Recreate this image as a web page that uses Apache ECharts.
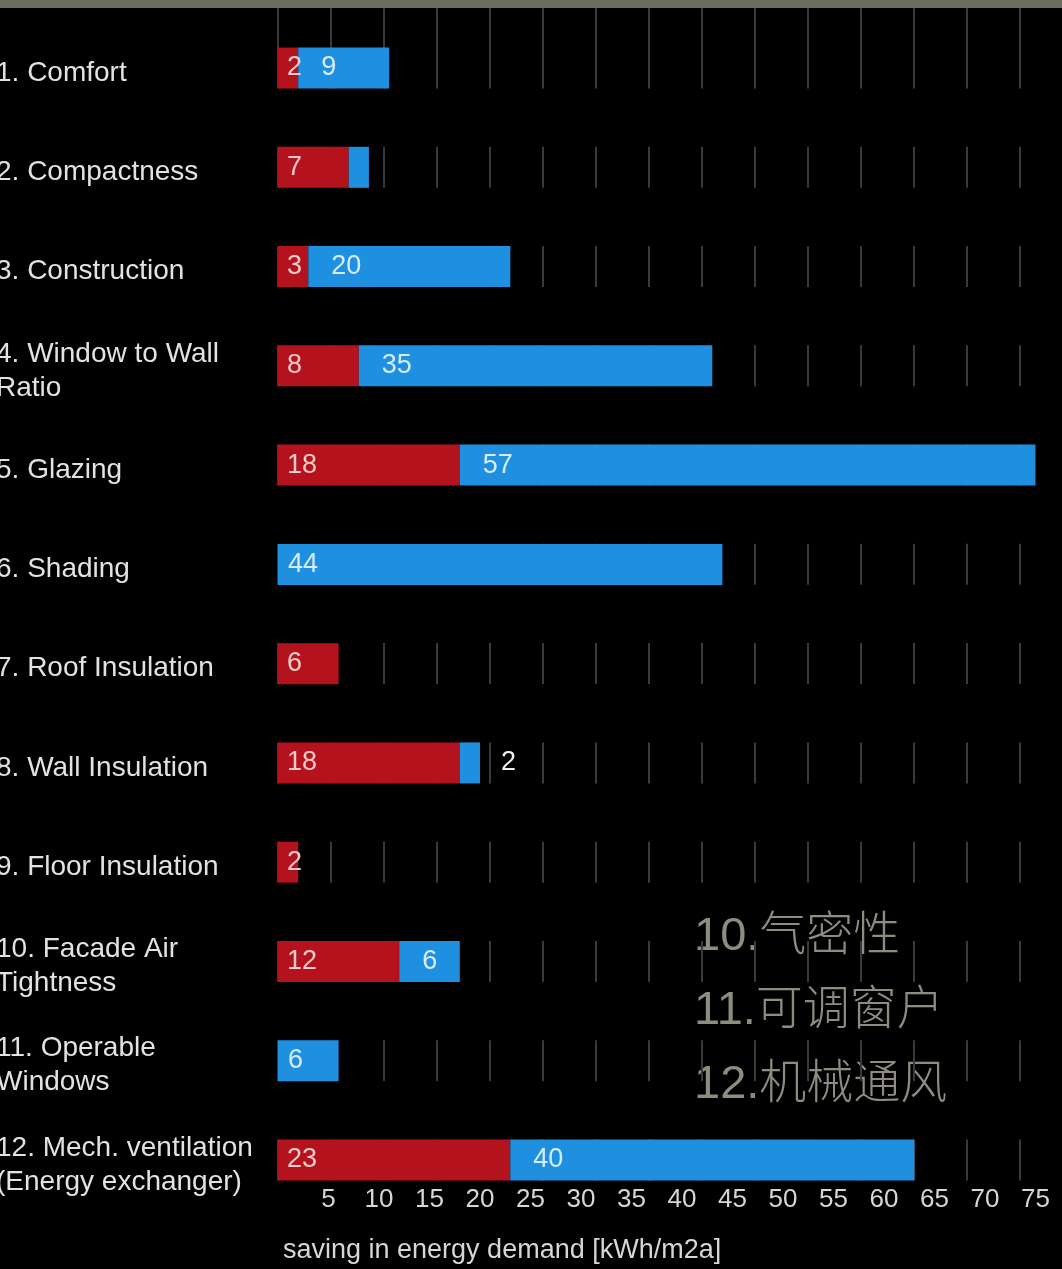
<!DOCTYPE html>
<html>
<head>
<meta charset="utf-8">
<script src="https://cdn.jsdelivr.net/npm/echarts@6/dist/echarts.min.js"></script>
<style>
  html, body { margin: 0; padding: 0; background: #000; }
  #chart { width: 1062px; height: 1269px; }
</style>
</head>
<body>
<div id="chart"></div>
<script>
// Energy-saving measures: heating share (red) and cooling share (blue), kWh/m2a
const categories = [
  '1. Comfort',
  '2. Compactness',
  '3. Construction',
  '4. Window to Wall\nRatio',
  '5. Glazing',
  '6. Shading',
  '7. Roof Insulation',
  '8. Wall Insulation',
  '9. Floor Insulation',
  '10. Facade Air\nTightness',
  '11. Operable\nWindows',
  '12. Mech. ventilation\n(Energy exchanger)'
];
const redValues  = [2, 7, 3, 8, 18, 0, 6, 18, 2, 12, 0, 23];
const blueValues = [9, 2, 20, 35, 57, 44, 0, 2, 0, 6, 6, 40];
const tickLabels = ['5', '10', '15', '20', '25', '30', '35', '40', '45', '50', '55', '60', '65', '70', '75'];
const axisTitle = 'saving in energy demand [kWh/m2a]';
const notes = ['10.气密性', '11.可调窗户', '12.机械通风'];
// blue segments whose value is not printed / printed beside the bar
const blueUnlabelled = [1];
const blueLabelOutside = [7];

const FONT = '"Liberation Sans", Arial, sans-serif';
const RED = '#b4121c';
const BLUE = '#1f8fe0';

const gridLeft = 278, gridTop = 18.4, rowH = 99.27;
const gridW = 757.5;                   // 75 units on the value axis
const gridH = rowH * categories.length;
const gridLineCount = 757.5 / 53;      // backdrop guide spacing

const redData = redValues.map(v => ({
  value: v,
  label: { show: v > 0 }
}));
const blueData = blueValues.map((v, i) => {
  if (v === 0 || blueUnlabelled.includes(i)) return { value: v, label: { show: false } };
  if (blueLabelOutside.includes(i)) {
    return { value: v, label: { show: true, position: 'right', distance: 21, color: '#eeeeee' } };
  }
  return { value: v, label: { show: true, position: 'insideLeft', distance: redValues[i] > 0 ? 23 : 10 } };
});

const guideLine = {
  show: true,
  showMaxLine: false,
  lineStyle: { color: '#3a3a3a', width: 2 }
};

const chart = echarts.init(document.getElementById('chart'), null, { renderer: 'canvas' });
chart.setOption({
  backgroundColor: '#000',
  animation: false,
  title: {
    text: axisTitle,
    left: 283, top: 1237, padding: 0,
    textStyle: { color: '#d6d6d6', fontSize: 27, fontWeight: 'normal', fontFamily: FONT }
  },
  grid: [
    { left: gridLeft, top: gridTop, width: gridW, height: gridH, outerBoundsMode: 'none', containLabel: false },
    { left: gridLeft, top: 8, width: gridW, height: 40, outerBoundsMode: 'none', containLabel: false }
  ],
  xAxis: [
    {
      type: 'value', gridIndex: 0, min: 0, max: 75, interval: 5,
      axisLine: { show: false }, axisTick: { show: false }, splitLine: { show: false },
      axisLabel: {
        margin: -23,
        color: '#d6d6d6', fontSize: 26, fontFamily: FONT,
        formatter: v => (v === 0 ? '' : tickLabels[v / 5 - 1])
      }
    },
    {
      type: 'value', gridIndex: 0, min: 0, max: gridLineCount, interval: 1,
      axisLine: { show: false }, axisTick: { show: false }, axisLabel: { show: false },
      splitLine: Object.assign({}, guideLine, {
        lineStyle: { color: '#3a3a3a', width: 2, type: [41, rowH - 41], dashOffset: rowH - 29.1 }
      })
    },
    {
      type: 'value', gridIndex: 1, min: 0, max: gridLineCount, interval: 1,
      axisLine: { show: false }, axisTick: { show: false }, axisLabel: { show: false },
      splitLine: guideLine
    }
  ],
  yAxis: [
    {
      type: 'category', gridIndex: 0, data: categories, inverse: true,
      axisLine: { show: false }, axisTick: { show: false },
      axisLabel: {
        align: 'left', margin: 282,
        color: '#e2e2e2', fontSize: 28, lineHeight: 34, fontFamily: FONT,
        // a thin spacer line above each name nudges the text block down a little
        formatter: v => '{gap| }\n' + v,
        rich: { gap: { fontSize: 1, lineHeight: 10 } }
      }
    },
    { type: 'value', gridIndex: 1, show: false }
  ],
  series: [
    {
      name: 'heating', type: 'bar', stack: 'saving', xAxisIndex: 0, yAxisIndex: 0,
      barWidth: 41, data: redData,
      itemStyle: { color: RED },
      label: { position: 'insideLeft', distance: 9, color: '#f6caca', fontSize: 27, fontFamily: FONT },
      silent: true
    },
    {
      name: 'cooling', type: 'bar', stack: 'saving', xAxisIndex: 0, yAxisIndex: 0,
      barWidth: 41, data: blueData,
      itemStyle: { color: BLUE },
      label: { color: '#d6ecff', fontSize: 27, fontFamily: FONT },
      silent: true
    }
  ],
  graphic: [
    { type: 'rect', left: 0, top: 0, shape: { width: 1062, height: 8 }, style: { fill: '#6b6d5f' }, silent: true },
    ...notes.map((t, i) => ({
      type: 'text', left: 694, top: 914 + i * 74,
      style: {
        text: t, fill: '#8d8c7e',
        font: '300 47px "Liberation Sans", "Noto Sans CJK SC", sans-serif'
      },
      silent: true
    }))
  ]
});
</script>
</body>
</html>
